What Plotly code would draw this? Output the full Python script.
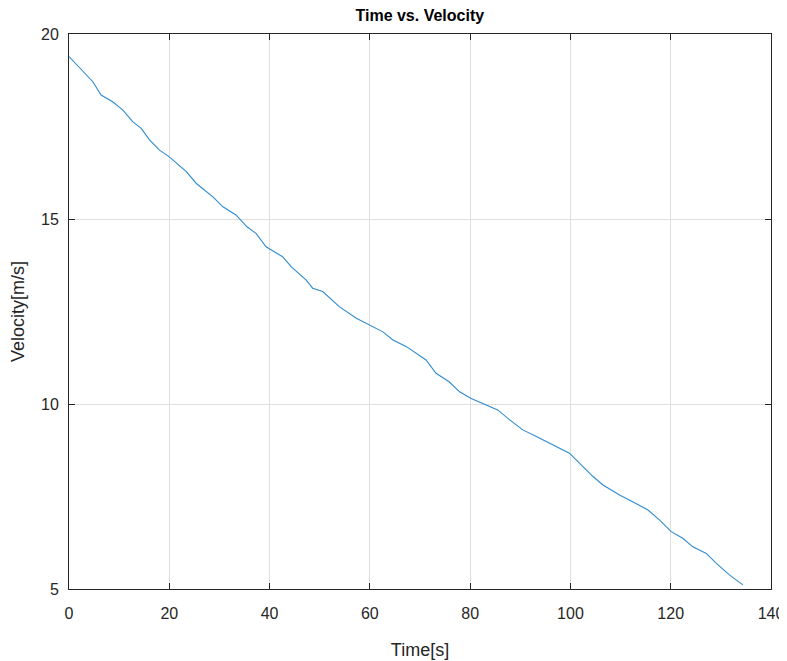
import plotly.graph_objects as go

time_s = [0, 2.75, 4.75, 6.4, 8.7, 10.7, 12.7, 14.4, 16.05, 18.05, 20.0, 23.4, 25.4,
          28.7, 30.7, 33.3, 35.5, 37.3, 39.3, 42.6, 44.3, 47.3, 48.6, 50.6, 53.9,
          57.3, 59.9, 62.6, 64.6, 67.3, 71.2, 73.2, 75.8, 77.9, 80.2, 83.2, 85.5,
          87.9, 90.5, 93.2, 96.5, 99.8, 101.8, 104.5, 106.5, 109.8, 112.4, 115.4,
          117.8, 120.1, 122.4, 124.4, 127.1, 129.1, 131.7, 134.4]
velocity = [19.39, 18.98, 18.71, 18.35, 18.17, 17.95, 17.63, 17.45, 17.14, 16.86,
            16.68, 16.28, 15.96, 15.6, 15.33, 15.11, 14.79, 14.61, 14.25, 13.98,
            13.71, 13.35, 13.13, 13.04, 12.63, 12.32, 12.14, 11.95, 11.73, 11.55,
            11.19, 10.83, 10.6, 10.33, 10.15, 9.97, 9.84, 9.57, 9.30, 9.12, 8.89,
            8.67, 8.40, 8.04, 7.81, 7.54, 7.36, 7.14, 6.86, 6.55, 6.37, 6.14, 5.96,
            5.69, 5.38, 5.11]

x_ticks = [0, 20, 40, 60, 80, 100, 120, 140]
y_ticks = [5, 10, 15, 20]

FONT = "Liberation Sans, Arial"

fig = go.Figure()
fig.add_trace(go.Scatter(x=time_s, y=velocity, mode="lines",
                         line=dict(color="#2F8BCF", width=1.1), showlegend=False))

axis_common = dict(
    showline=True, linecolor="#262626", linewidth=1, mirror="ticks",
    ticks="inside", ticklen=6, tickcolor="#262626", tickwidth=1,
    showgrid=True, gridcolor="#DFDFDF", gridwidth=1, zeroline=False,
    automargin=False,
    tickfont=dict(family=FONT, size=16, color="#262626"),
)

fig.update_layout(
    width=795, height=653,
    margin=dict(l=61, r=32, t=26, b=72, autoexpand=False),
    paper_bgcolor="white", plot_bgcolor="white",
    title=dict(text="<b>Time vs. Velocity</b>", x=0.518, xanchor="center",
               y=0.989, yanchor="middle", automargin=False,
               font=dict(family=FONT, size=16, color="black")),
    xaxis=dict(range=[0, 140], tickvals=x_ticks, ticklabelstandoff=10,
               title=dict(text="Time[s]", standoff=22,
                          font=dict(family=FONT, size=18, color="#262626")),
               **axis_common),
    yaxis=dict(range=[5, 20], tickvals=y_ticks, ticklabelstandoff=6,
               title=dict(text="Velocity[m/s]", standoff=14,
                          font=dict(family=FONT, size=18, color="#262626")),
               **axis_common),
)

fig.write_html("out.html")
